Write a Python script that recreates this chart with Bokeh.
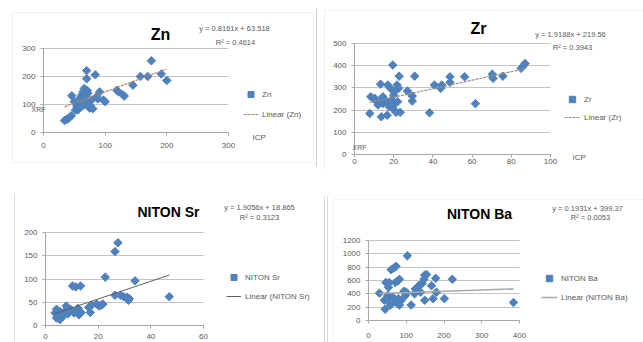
import numpy as np
from bokeh.plotting import figure
from bokeh.models import (Label, Legend, LegendItem, FixedTicker, BoxAnnotation, Range1d, Grid)
from bokeh.layouts import column, row
from bokeh.embed import file_html
from bokeh.resources import INLINE

# ---------------- data ----------------
zn_icp = [34, 38, 40, 43, 45, 46, 50, 52, 54, 55, 56, 58, 59, 60, 62, 63, 64, 65, 66, 67, 68, 70, 70, 71, 72, 73,
          75, 76, 78, 80, 84, 86, 88, 91, 97, 100, 119, 122, 129, 131, 145, 157, 169, 175, 191, 200]
zn_xrf = [43, 47, 50, 55, 60, 131, 110, 80, 93, 100, 81, 90, 122, 105, 134, 95, 145, 110, 157, 100, 130, 221, 192,
          150, 140, 105, 87, 95, 116, 85, 206, 128, 120, 145, 116, 110, 151, 145, 134, 130, 169, 200, 200, 256, 209, 186]

zr_icp = [7.8, 8.3, 10.3, 11, 12, 12.8, 13.3, 13.7, 14.5, 14.5, 15.3, 16.2, 16.7, 17, 17.8, 18.3, 18.7, 19.5, 19.5,
          20, 20.3, 20.8, 21.2, 21.7, 22, 22.5, 22.8, 23.3, 27, 29.5, 29.5, 30.7, 38.3, 40.8, 44, 44.5, 48.7, 48.7,
          56.2, 61.7, 70.3, 70.7, 75.7, 85, 86.2, 87]
zr_xrf = [185, 260, 253, 241, 223, 238, 317, 170, 260, 230, 245, 238, 177, 313, 215, 298, 245, 403, 208, 268, 283,
          230, 190, 313, 238, 298, 353, 190, 286, 263, 241, 353, 188, 313, 298, 313, 350, 325, 350, 229, 362, 343,
          353, 388, 400, 410]

sr_icp = [3.6, 4.2, 4.2, 4.8, 5.5, 5.5, 6.1, 6.7, 7.3, 7.9, 8.5, 9.1, 9.7, 10.3, 10.9, 11.5, 11.9, 12.4, 12.7, 13.3,
          13.5, 16.4, 17, 17.6, 19.4, 20.4, 21.2, 21.8, 22.7, 26.4, 27.5, 26.4, 28.5, 29.7, 30.9, 31.5, 31.8, 34, 47]
sr_niton = [27, 16, 35, 21, 30, 13, 25, 20, 30, 42, 25, 30, 34, 85, 27, 83, 30, 37, 23, 85, 28, 39, 28, 44, 46, 42,
            44, 46, 104, 159, 178, 65, 65, 62, 61, 54, 58, 96, 62]

ba_icp = [29, 44, 42, 46, 51, 51, 53, 55, 58, 60, 64, 67, 71, 73, 73, 76, 78, 79, 82, 82, 87, 94, 98, 100, 103, 113,
          122, 124, 130, 133, 138, 142, 147, 149, 154, 149, 167, 171, 178, 180, 201, 222, 384]
ba_niton = [410, 169, 304, 570, 377, 304, 498, 570, 232, 763, 353, 787, 570, 812, 280, 256, 594, 328, 618, 232, 304,
            440, 377, 425, 971, 232, 401, 473, 498, 522, 425, 556, 618, 681, 690, 304, 522, 328, 633, 425, 328, 618, 270]

titles = ["Zn", "Zr", "NITON Sr", "NITON Ba"]
series_names = ["Zn", "Zr", "NITON Sr", "NITON Ba"]
slopes = [0.8161, 1.9188, 1.9056, 0.1931]
intercepts = [63.518, 219.56, 18.865, 399.37]
eq_texts = ["y = 0.8161x + 63.518", "y = 1.9188x + 219.56", "y = 1.9056x + 18.865", "y = 0.1931x + 399.37"]
r2_texts = ["R² = 0.4614", "R² = 0.3943", "R² = 0.3123", "R² = 0.0053"]
x_ticks = [[0, 100, 200, 300], [0, 20, 40, 60, 80, 100], [0, 20, 40, 60], [0, 100, 200, 300, 400]]
y_ticks = [[0, 100, 200, 300], [0, 100, 200, 300, 400, 500], [0, 50, 100, 150, 200],
           [0, 200, 400, 600, 800, 1000, 1200]]
x_axis_titles = ["ICP", "ICP", None, None]
y_axis_titles = ["XRF", "XRF", None, None]

xs_all = [zn_icp, zr_icp, sr_icp, ba_icp]
ys_all = [zn_xrf, zr_xrf, sr_niton, ba_niton]

# ---------------- layout (page pixel coordinates) ----------------
FONT = "Liberation Sans"
BLUE = "#4F81BD"
GREY_TXT = "#595959"
HAS_CROSS = "cross_bounds" in Grid.properties()
GH = 16  # legend glyph height

cfgs = [
    dict(ox=0, oy=0, w=320, h=170, FL=43, FR=228, FT=48, FB=132, std=7, tsize="16px",
         title=(160, 34), eq1=(234, 28), eq2=(235, 42), leg=(243, 122), gw=15, sp=4,
         xt=(252, 137), yt=(38, 109), trend="#b0826a", dash="3 1", tw=1.2,
         boxes=[(12, 313, 12, 162, "#d0d0d0"), (316, 316, 8, 166, "#a0a0a0")]),
    dict(ox=320, oy=0, w=323, h=170, FL=354, FR=550, FT=43, FB=154, std=1, tsize="16px",
         title=(478, 28), eq1=(570, 34), eq2=(572, 47), leg=(564, 125), gw=16, sp=2,
         xt=(572, 157), yt=(359, 147), trend="#9a8c84", dash="3 1", tw=1.2,
         boxes=[(324, 660, 10, 180, "#cfcfcf")]),
    dict(ox=0, oy=170, w=320, h=172, FL=45, FR=203, FT=232, FB=325, std=5, tsize="14px",
         title=(168, 211), eq1=(259, 207), eq2=(259, 217), leg=(226, 304), gw=15, sp=3,
         xt=None, yt=None, trend="#606060", dash="solid", tw=1.0,
         boxes=[(14, 14, 193, 350, "#bdbdbd")]),
    dict(ox=320, oy=170, w=323, h=172, FL=368, FR=519, FT=240, FB=320, std=9, tsize="14px",
         title=(479, 213), eq1=(587, 208), eq2=(590, 217), leg=(541, 305), gw=16, sp=3,
         xt=None, yt=None, trend="#a8a8a8", dash="solid", tw=1.5,
         boxes=[(324, 324, 196, 350, "#b5b5b5"), (327, 327, 196, 350, "#b5b5b5"),
                (333, 660, 199, 350, "#d4d4d4")]),
]


def make_panel(i):
    c = cfgs[i]
    xs, ys = xs_all[i], ys_all[i]
    ox, oy, W, H = c["ox"], c["oy"], c["w"], c["h"]
    xa, xb = x_ticks[i][0], x_ticks[i][-1]
    ya, yb = y_ticks[i][0], y_ticks[i][-1]
    # ranges chosen so that the plotting area lands where the reference has it
    kx = (c["FR"] - c["FL"]) / (xb - xa)
    x0 = xa - (c["FL"] - ox) / kx
    ky = (c["FB"] - c["FT"]) / (yb - ya)
    y1 = yb + (c["FT"] - oy) / ky
    p = figure(width=W, height=H, output_backend="svg", toolbar_location=None,
               x_range=Range1d(x0, x0 + W / kx), y_range=Range1d(y1 - H / ky, y1),
               min_border=0)
    p.outline_line_color = None
    p.xgrid.visible = False
    p.xaxis.ticker = FixedTicker(ticks=x_ticks[i])
    p.yaxis.ticker = FixedTicker(ticks=y_ticks[i])
    p.xaxis.fixed_location = ya
    p.yaxis.fixed_location = xa
    p.xaxis.bounds = (xa, xb)
    p.yaxis.bounds = (ya, yb)
    for ax in (p.xaxis, p.yaxis):
        ax.axis_line_color = "#a6a6a6"
        ax.major_tick_line_color = "#a6a6a6"
        ax.major_tick_out = 3
        ax.major_tick_in = 0
        ax.minor_tick_line_color = None
        ax.major_label_text_font = FONT
        ax.major_label_text_font_size = "8px"
        ax.major_label_text_color = GREY_TXT
    p.xaxis.major_label_standoff = c["std"]
    p.yaxis.major_label_standoff = 5

    if HAS_CROSS:
        p.ygrid.ticker = FixedTicker(ticks=y_ticks[i][1:])
        p.ygrid.bounds = (ya, yb)
        p.ygrid.cross_bounds = (xa, xb)
        p.ygrid.grid_line_color = "#c4c4c4"
    else:
        p.ygrid.visible = False
        gt = y_ticks[i][1:]
        p.segment(x0=[xa] * len(gt), y0=gt, x1=[xb] * len(gt), y1=gt, line_color="#c4c4c4")

    sc = p.scatter(xs, ys, marker="square", angle=np.pi / 4, size=6,
                   fill_color=BLUE, line_color=BLUE)
    xr = np.array([min(xs), max(xs)], dtype=float)
    ln = p.line(xr, slopes[i] * xr + intercepts[i], line_color=c["trend"], line_width=c["tw"],
                line_dash=c["dash"])

    def lab(pos, text, size="8px", bold=False, align="center", color=GREY_TXT):
        X, Y = pos
        p.add_layout(Label(x=X - ox, y=oy + H - Y, x_units="screen", y_units="screen", text=text,
                           text_font=FONT, text_font_size=size,
                           text_font_style="bold" if bold else "normal",
                           text_align=align, text_baseline="middle", text_color=color))

    lab(c["title"], titles[i], size=c["tsize"], bold=True, color="#000000")
    lab(c["eq1"], eq_texts[i], size="7.5px")
    lab(c["eq2"], r2_texts[i], size="7.5px")
    if x_axis_titles[i] and c["xt"]:
        lab(c["xt"], x_axis_titles[i], align="left")
    if y_axis_titles[i] and c["yt"]:
        lab(c["yt"], y_axis_titles[i], size="7px")

    lx, ly = c["leg"]
    legend = Legend(items=[LegendItem(label=series_names[i], renderers=[sc]),
                           LegendItem(label="Linear (" + series_names[i] + ")", renderers=[ln])],
                    location=(lx - ox, oy + H - ly), orientation="vertical",
                    border_line_color=None, background_fill_alpha=0, padding=0, margin=0,
                    spacing=c["sp"], glyph_width=c["gw"], glyph_height=GH, label_height=10,
                    label_standoff=4, label_text_font=FONT, label_text_font_size="8px",
                    label_text_color=GREY_TXT)
    p.add_layout(legend)

    for (l, r, t, b, col) in c["boxes"]:
        p.add_layout(BoxAnnotation(left=l - ox, right=r - ox, top=t - oy, bottom=b - oy,
                                   left_units="canvas", right_units="canvas",
                                   top_units="canvas", bottom_units="canvas",
                                   fill_alpha=0, line_color=col, line_width=1))
    return p


panels = [make_panel(i) for i in range(4)]
layout = column(row(panels[0], panels[1]), row(panels[2], panels[3]))

open("out.html", "w").write(file_html(layout, INLINE))
